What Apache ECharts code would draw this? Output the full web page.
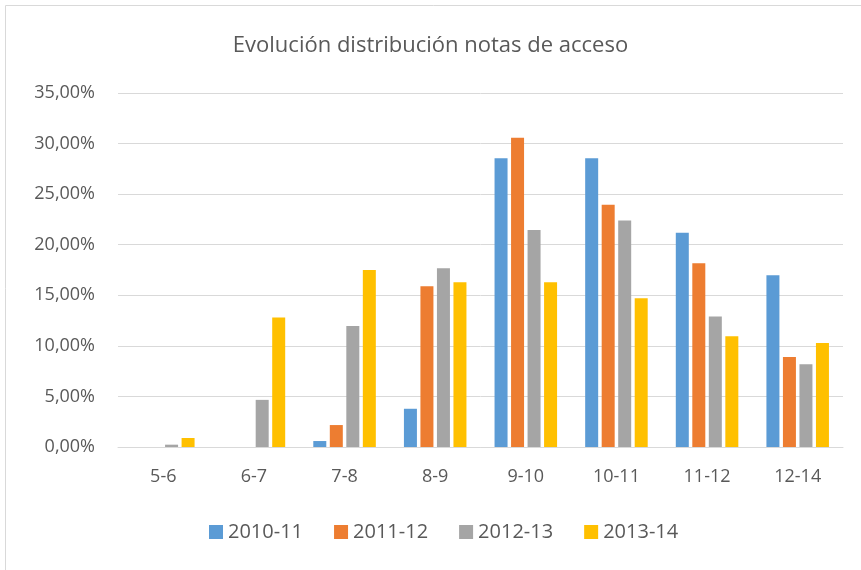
<!DOCTYPE html>
<html><head><meta charset="utf-8">
<script src="https://cdn.jsdelivr.net/npm/echarts@6/dist/echarts.min.js"></script>
<style>html,body{margin:0;padding:0;background:#fff}#c{width:861px;height:570px}</style>
</head><body><div id="c"></div>
<script>
const categories = ['5-6','6-7','7-8','8-9','9-10','10-11','11-12','12-14'];
const seriesNames = ['2010-11','2011-12','2012-13','2013-14'];
const s2010 = [0, 0, 0.59, 3.78, 28.55, 28.55, 21.19, 16.98];
const s2011 = [0, 0, 2.17, 15.9, 30.58, 23.95, 18.17, 8.9];
const s2012 = [0.23, 4.66, 11.96, 17.67, 21.45, 22.4, 12.91, 8.18];
const s2013 = [0.89, 12.8, 17.5, 16.3, 16.3, 14.7, 10.94, 10.28];
const colors = ['#5B9BD5','#ED7D31','#A5A5A5','#FFC000'];
const allData = [s2010, s2011, s2012, s2013];
const font = 'Open Sans, Noto Sans, sans-serif';
const chart = echarts.init(document.getElementById('c'));
chart.setOption({
  animation: false,
  graphic: [{type:'rect', shape:{x:5.5,y:5.5,width:900,height:600}, style:{fill:'none', stroke:'#D9D9D9', lineWidth:1}}],
  title: {text:'Evolución distribución notas de acceso', left:'center', top:30,
    textStyle:{fontFamily:font, fontSize:22, fontWeight:'normal', color:'#595959'}},
  legend: {top:517, left:204, itemWidth:14, itemHeight:14, itemGap:31, icon:'rect',
    textStyle:{fontFamily:font, fontSize:20, color:'#595959'}},
  grid: {left:118, right:18, top:93, bottom:123, containLabel:false},
  xAxis: {type:'category', data:categories,
    axisLine:{show:true, lineStyle:{color:'#D9D9D9', width:1}}, axisTick:{show:false},
    axisLabel:{fontFamily:font, fontSize:18, color:'#595959', margin:21}},
  yAxis: {type:'value', min:0, max:35, interval:5,
    axisLine:{show:false}, axisTick:{show:false},
    splitLine:{lineStyle:{color:'#D9D9D9', width:1}},
    axisLabel:{fontFamily:font, fontSize:18, color:'#595959', margin:23,
      formatter: v => v.toFixed(2).replace('.',',') + '%'}},
  series: seriesNames.map((n,i)=>({name:n, type:'bar', data:allData[i], barWidth:13, barGap:'27%',
    itemStyle:{color:colors[i]}}))
});
</script></body></html>
